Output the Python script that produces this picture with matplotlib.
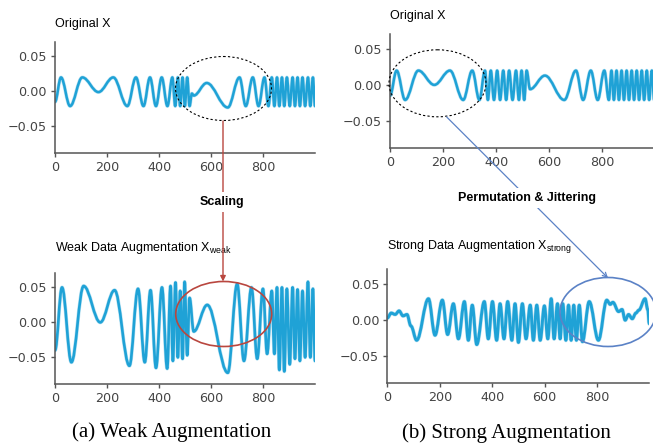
import matplotlib
matplotlib.use("Agg")
import matplotlib.pyplot as plt
from matplotlib.path import Path
from matplotlib.patches import PathPatch, Ellipse

# ---------------- data (local extrema) ----------------
orig_a_x = [0, 23, 58, 105, 167, 224, 278, 311, 340, 365, 388, 410, 432, 451, 462, 472, 481, 490, 499, 508,
            517, 526, 533, 583, 664, 709, 733, 760, 782, 805, 820, 833, 843, 853, 862, 872, 881, 891, 902, 913,
            922, 932, 941, 951, 961, 972, 981, 991, 999]
orig_a_y = [-0.015, 0.020, -0.021, 0.020, -0.001, 0.020, -0.021, 0.020, -0.021, 0.020,
            -0.021, 0.020, -0.021, 0.020, -0.021, 0.020, -0.021, 0.020, -0.021, 0.020,
            -0.021, -0.003, -0.006, 0.012, -0.023, 0.020, -0.021, 0.020, -0.021, 0.020,
            -0.021, 0.020, -0.021, 0.020, -0.021, 0.020, -0.021, 0.020, -0.021, 0.020,
            -0.021, 0.020, -0.021, 0.020, -0.021, 0.020, -0.021, 0.020, -0.021]

orig_b_x = [0, 25, 57, 107, 167, 226, 276, 310, 337, 358, 369, 380, 392, 404, 415, 427, 438, 449, 462, 475,
            486, 496, 506, 515, 528, 584, 657, 701, 728, 757, 783, 808, 825, 835, 844, 854, 863, 873, 882, 892,
            901, 911, 920, 930, 939, 949, 958, 968, 977, 987, 996]
orig_b_y = [-0.015, 0.020, -0.021, 0.020, 0.000, 0.020, -0.021, 0.020, -0.021, 0.020,
            -0.021, 0.020, -0.021, 0.020, -0.021, 0.020, -0.021, 0.020, -0.021, 0.020,
            -0.021, 0.020, -0.021, 0.020, -0.006, 0.013, -0.021, 0.020, -0.021, 0.020,
            -0.021, 0.020, -0.021, 0.020, -0.021, 0.020, -0.021, 0.020, -0.021, 0.020,
            -0.021, 0.020, -0.021, 0.020, -0.021, 0.020, -0.021, 0.020, -0.021, 0.020, -0.021]

weak_x = [0, 27, 63, 110, 174, 229, 286, 319, 345, 367, 388, 411, 431, 444, 453, 463, 472, 481, 490, 498,
          508, 517, 533, 585, 664, 700, 726, 755, 777, 799, 815, 833, 843, 853, 862, 872, 881, 891, 902, 913,
          922, 932, 941, 951, 961, 972, 981, 991, 999]
weak_y = [-0.040, 0.050, -0.057, 0.052, 0.000, 0.046, -0.062, 0.048, -0.057, 0.046,
          -0.065, 0.050, -0.066, 0.052, -0.055, 0.057, -0.050, 0.045, -0.052, 0.058,
          -0.047, 0.035, -0.013, 0.025, -0.072, 0.055, -0.055, 0.050, -0.052, 0.048,
          -0.045, 0.045, -0.045, 0.050, -0.068, 0.050, -0.070, 0.048, -0.060, 0.050,
          -0.052, 0.047, -0.055, 0.045, -0.050, 0.058, -0.050, 0.048, -0.055]

strong_x = [0, 15, 30, 45, 60, 75, 90, 112, 157, 182, 210, 230, 252, 271, 294, 309, 324, 341, 370, 385,
            401, 417, 430, 445, 459, 475, 487, 500, 515, 529, 545, 557, 570, 583, 599, 612, 625, 636, 649, 659,
            669, 681, 691, 701, 711, 721, 732, 744, 770, 805, 837, 850, 860, 882, 895, 907, 920, 934, 948, 959,
            983, 993, 999]
strong_y = [0.003, 0.010, 0.008, 0.013, 0.006, 0.008, -0.008, -0.028, 0.030, -0.021,
            0.028, -0.020, 0.023, -0.026, 0.026, -0.028, 0.021, -0.034, 0.026, -0.026,
            0.026, -0.028, 0.023, -0.026, 0.026, -0.028, 0.023, -0.031, 0.023, -0.026,
            0.021, -0.028, 0.021, -0.028, 0.020, -0.026, 0.030, -0.026, 0.023, -0.026,
            0.023, -0.028, 0.021, -0.028, 0.021, -0.028, 0.021, -0.030, 0.026, -0.028,
            0.028, 0.022, 0.025, 0.012, 0.015, 0.000, 0.008, 0.002, 0.010, 0.014,
            0.030, 0.015, -0.005]

x_ticks = [0, 200, 400, 600, 800]
y_ticks = [-0.05, 0.00, 0.05]
y_tick_labels = ["\u22120.05", "0.00", "0.05"]

titles = ["Original X", "Original X",
          r"Weak Data Augmentation X$_\mathregular{weak}$",
          r"Strong Data Augmentation X$_\mathregular{strong}$"]
captions = ["(a) Weak Augmentation", "(b) Strong Augmentation"]
arrow_labels = ["Scaling", "Permutation & Jittering"]

# ---------------- style ----------------
W, H = 653, 445
LINE = "#1fa2d6"
RED = "#b9473f"
BLUE = "#5b82c6"
TICKC = "#444444"

fig = plt.figure(figsize=(W / 100, H / 100), dpi=100, facecolor="white")


def rect(left, top, right, bottom):
    return [left / W, 1 - bottom / H, (right - left) / W, (bottom - top) / H]


def smooth_path(xs, ys, k=0.3642):
    verts = [(xs[0], ys[0])]
    codes = [Path.MOVETO]
    for i in range(len(xs) - 1):
        x0, y0, x1, y1 = xs[i], ys[i], xs[i + 1], ys[i + 1]
        dx = x1 - x0
        verts += [(x0 + k * dx, y0), (x1 - k * dx, y1), (x1, y1)]
        codes += [Path.CURVE4] * 3
    return Path(verts, codes)


panels = [
    (rect(55, 41.7, 315, 153), orig_a_x, orig_a_y, 1.8, titles[0], 10.8),
    (rect(390, 34, 655, 148), orig_b_x, orig_b_y, 1.8, titles[1], 10.8),
    (rect(55, 272.7, 315, 384), weak_x, weak_y, 1.9, titles[2], 15.8),
    (rect(387.3, 269.3, 649.3, 383.3), strong_x, strong_y, 2.1, titles[3], 14.6),
]

for r, xs, ys, lw, title, pad in panels:
    ax = fig.add_axes(r)
    ax.set_xlim(0, 999)
    ax.set_ylim(-0.088, 0.071)
    ax.add_patch(PathPatch(smooth_path(xs, ys), fill=False, edgecolor=LINE, lw=lw + 0.8,
                           alpha=0.3, capstyle="round", joinstyle="round"))
    ax.add_patch(PathPatch(smooth_path(xs, ys), fill=False, edgecolor=LINE, lw=lw,
                           capstyle="round", joinstyle="round"))
    for s in ["top", "right"]:
        ax.spines[s].set_visible(False)
    for s in ["left", "bottom"]:
        ax.spines[s].set_color("#555555")
        ax.spines[s].set_linewidth(1.1)
    ax.set_xticks(x_ticks)
    ax.set_yticks(y_ticks)
    ax.set_yticklabels(y_tick_labels)
    ax.tick_params(length=2.6, width=1.0, color="#555555", labelcolor=TICKC,
                   labelsize=9.2, pad=3.2)
    ax.set_title(title, loc="left", pad=pad, fontsize=9, family="Liberation Sans",
                 color="black")

# ---------------- overlay annotations (figure pixel space) ----------------
ov = fig.add_axes([0, 0, 1, 1], zorder=10)
ov.set_xlim(0, W)
ov.set_ylim(H, 0)
ov.axis("off")
ov.patch.set_alpha(0)

ov.add_patch(Ellipse((223.5, 88.5), 96, 64, fill=False, ec="black", lw=0.8, ls=(0, (2, 2))))
ov.add_patch(Ellipse((437.5, 83.3), 97, 67, fill=False, ec="black", lw=0.8, ls=(0, (2, 2))))
ov.add_patch(Ellipse((223.7, 314), 96, 65, fill=False, ec=RED, lw=1.2))
ov.add_patch(Ellipse((608, 312), 96, 69, fill=False, ec=BLUE, lw=1.2))

ov.annotate("", xy=(223, 281.5), xytext=(223, 121),
            arrowprops=dict(arrowstyle="-|>", color=RED, lw=1.0, mutation_scale=8,
                            shrinkA=0, shrinkB=0), zorder=3)
ov.annotate("", xy=(608, 278), xytext=(446.7, 117),
            arrowprops=dict(arrowstyle="->", color=BLUE, lw=0.9, mutation_scale=8,
                            shrinkA=0, shrinkB=0), zorder=3)

ov.text(222, 202, arrow_labels[0], ha="center", va="center", fontsize=9, fontweight="bold",
        family="Liberation Sans", zorder=5,
        bbox=dict(facecolor="white", edgecolor="none", pad=3))
ov.text(527, 198, arrow_labels[1], ha="center", va="center", fontsize=9, fontweight="bold",
        family="Liberation Sans", zorder=5,
        bbox=dict(facecolor="white", edgecolor="none", pad=3))

ov.text(172, 432, captions[0], ha="center", va="center", fontsize=15, family="Liberation Serif")
ov.text(506.7, 433, captions[1], ha="center", va="center", fontsize=15, family="Liberation Serif")

fig.savefig("out.png", dpi=100, facecolor="white")
